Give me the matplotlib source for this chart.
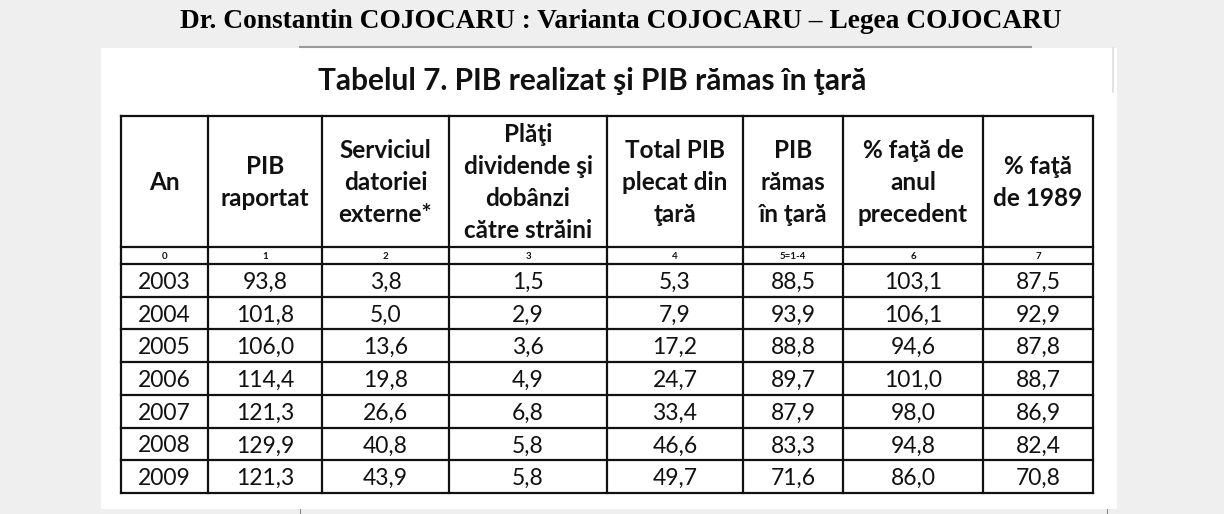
import matplotlib.pyplot as plt
from matplotlib.patches import Rectangle

# page header and table title
page_header = "Dr. Constantin COJOCARU : Varianta COJOCARU \u2013 Legea COJOCARU"
table_title = "Tabelul 7. PIB realizat şi PIB rămas în ţară"

# column headers and index row
col_headers = [
    "An",
    "PIB\nraportat",
    "Serviciul\ndatoriei\nexterne*",
    "Plăţi\ndividende şi\ndobânzi\ncătre străini",
    "Total PIB\nplecat din\nţară",
    "PIB\nrămas\nîn ţară",
    "% faţă de\nanul\nprecedent",
    "% faţă\nde 1989",
]
col_index = ["0", "1", "2", "3", "4", "5=1-4", "6", "7"]

# data
years = [2003, 2004, 2005, 2006, 2007, 2008, 2009]
pib_raportat = [93.8, 101.8, 106.0, 114.4, 121.3, 129.9, 121.3]
serviciul_datoriei = [3.8, 5.0, 13.6, 19.8, 26.6, 40.8, 43.9]
plati_dividende = [1.5, 2.9, 3.6, 4.9, 6.8, 5.8, 5.8]
total_plecat = [5.3, 7.9, 17.2, 24.7, 33.4, 46.6, 49.7]
pib_ramas = [88.5, 93.9, 88.8, 89.7, 87.9, 83.3, 71.6]
fata_anul_precedent = [103.1, 106.1, 94.6, 101.0, 98.0, 94.8, 86.0]
fata_1989 = [87.5, 92.9, 87.8, 88.7, 86.9, 82.4, 70.8]

columns = [pib_raportat, serviciul_datoriei, plati_dividende, total_plecat,
           pib_ramas, fata_anul_precedent, fata_1989]

W, H = 1224, 514
fig = plt.figure(figsize=(W / 100, H / 100), dpi=100)
fig.patch.set_facecolor('#efefef')
ax = fig.add_axes([0, 0, 1, 1])
ax.set_xlim(0, W)
ax.set_ylim(H, 0)
ax.axis('off')

# white page panel
ax.add_patch(Rectangle((101, 48), 1016, 461, facecolor='white', edgecolor='none', zorder=0))
ax.plot([300, 1031], [46.5, 46.5], color='#9a9a9a', lw=1.5, zorder=1)
ax.plot([1113, 1113], [48, 92], color='#dddddd', lw=1.2, zorder=1)
ax.plot([300, 300], [509, 514], color='#888888', lw=0.8)
ax.plot([1107, 1107], [509, 514], color='#888888', lw=0.8)

ax.text(621, 22, page_header, ha='center', va='center', fontsize=19.7,
        fontweight='bold', family='Liberation Serif', color='#000000')
ax.text(592, 81, table_title, ha='center', va='center', fontsize=21.5,
        fontweight='bold', family='Lato', color='#111111')

# table geometry
xs = [121, 208, 322, 449, 607, 743, 843, 983, 1093]
y_top = 116
y_head = 247
y_idx = 264
y_bot = 493
row_h = (y_bot - y_idx) / len(years)
ys = [y_idx + i * row_h for i in range(len(years) + 1)]

lw = 1.6
for x in xs:
    ax.plot([x, x], [y_top, y_bot], color='#111111', lw=lw, solid_capstyle='projecting')
for y in [y_top, y_head] + ys:
    ax.plot([xs[0], xs[-1]], [y, y], color='#111111', lw=lw, solid_capstyle='projecting')

centers = [(xs[i] + xs[i + 1]) / 2 for i in range(len(xs) - 1)]

for cx, label in zip(centers, col_headers):
    ax.text(cx, (y_top + y_head) / 2 + 1, label, ha='center', va='center',
            fontsize=17.5, fontweight='bold', family='Lato', color='#111111',
            linespacing=1.47)

for cx, label in zip(centers, col_index):
    ax.text(cx, (y_head + y_idx) / 2 + 1, label, ha='center', va='center',
            fontsize=7, fontweight='bold', family='Lato', color='#111111')

for r, year in enumerate(years):
    base = ys[r] + row_h / 2 + 8.5
    ax.text(centers[0], base, str(year), ha='center', va='baseline',
            fontsize=16.5, family='Lato', color='#111111')
    for c, values in enumerate(columns):
        txt = f"{values[r]:.1f}".replace('.', ',')
        ax.text(centers[c + 1], base, txt, ha='center', va='baseline',
                fontsize=16.5, family='Lato', color='#111111')

fig.savefig('out.png', dpi=100, facecolor=fig.get_facecolor())
